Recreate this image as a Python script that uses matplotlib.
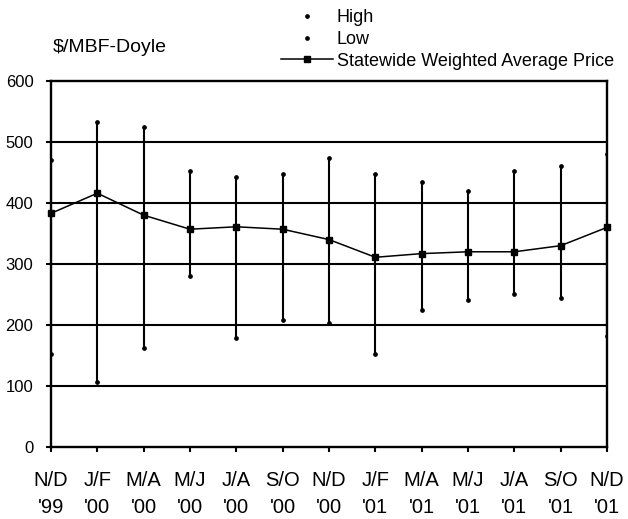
import numpy as np
import matplotlib.pyplot as plt

plt.rcParams['font.family'] = ['Liberation Sans', 'DejaVu Sans']

periods = ["N/D\n'99", "J/F\n'00", "M/A\n'00", "M/J\n'00", "J/A\n'00", "S/O\n'00",
           "N/D\n'00", "J/F\n'01", "M/A\n'01", "M/J\n'01", "J/A\n'01", "S/O\n'01", "N/D\n'01"]
high = [470, 533, 524, 452, 442, 448, 474, 448, 435, 419, 453, 461, 480]
low = [152, 107, 163, 280, 179, 208, 204, 152, 225, 241, 251, 244, 182]
avg = [383, 416, 380, 357, 361, 357, 340, 311, 317, 320, 320, 330, 360]

x = np.arange(len(periods))

fig = plt.figure(figsize=(6.28, 5.19), dpi=100)
ax = fig.add_axes([0.0812, 0.1387, 0.8854, 0.7053])

for y in [100, 200, 300, 400, 500]:
    ax.axhline(y, color='black', lw=1.5, zorder=1)

ax.vlines(x, low, high, color='black', lw=1.5, zorder=2)
ax.plot(x, high, ls='none', marker='o', ms=2.4, color='black', label='High', zorder=3)
ax.plot(x, low, ls='none', marker='o', ms=2.4, color='black', label='Low', zorder=3)
ax.plot(x, avg, color='black', lw=1.1, marker='s', ms=4.6,
        label='Statewide Weighted Average Price', zorder=4, clip_on=False)

ax.set_xlim(0, len(periods) - 1)
ax.set_ylim(0, 600)
ax.set_yticks(range(0, 601, 100))
ax.set_xticks(x)
ax.set_xticklabels(periods, linespacing=1.5)
ax.tick_params(axis='x', direction='out', length=3.6, width=1.5, pad=14, labelsize=14.5)
ax.tick_params(axis='y', direction='out', length=3.6, width=1.5, pad=9, labelsize=12)
for s in ax.spines.values():
    s.set_linewidth(1.7)

fig.text(53 / 628, 1 - 47 / 519, '$/MBF-Doyle', fontsize=14, va='center', ha='left')

fig.legend(loc='upper right', bbox_to_anchor=(614 / 628, 1 - 9 / 519), frameon=False,
           fontsize=13, handlelength=2.9, handletextpad=0.22, labelspacing=0.27,
           borderaxespad=0, borderpad=0)

fig.savefig('out.png', dpi=100)
